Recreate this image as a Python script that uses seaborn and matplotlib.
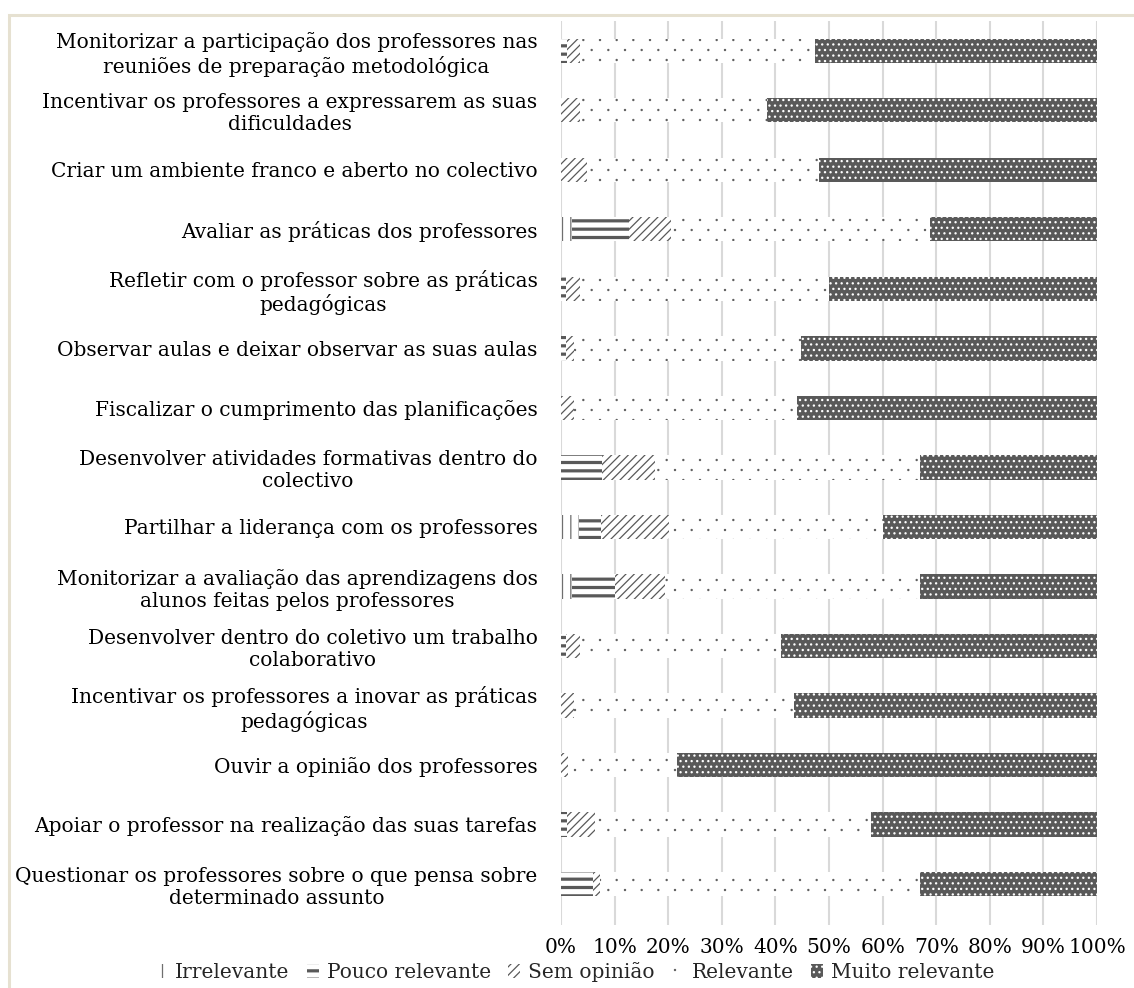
import numpy as np
import pandas as pd
import matplotlib
matplotlib.use("Agg")
import matplotlib.pyplot as plt
from matplotlib import hatch as mhatch
from matplotlib.path import Path
from matplotlib.patches import Patch, Rectangle
from matplotlib.ticker import FuncFormatter
import seaborn as sns

categories = [
    "Monitorizar a participação dos professores nas\nreuniões de preparação metodológica",
    "Incentivar os professores a expressarem as suas\ndificuldades",
    "Criar um ambiente franco e aberto no colectivo",
    "Avaliar as práticas dos professores",
    "Refletir com o professor sobre as práticas\npedagógicas",
    "Observar aulas e deixar observar as suas aulas",
    "Fiscalizar o cumprimento das planificações",
    "Desenvolver atividades formativas dentro do\ncolectivo",
    "Partilhar a liderança com os professores",
    "Monitorizar a avaliação das aprendizagens dos\nalunos feitas pelos professores",
    "Desenvolver dentro do coletivo um trabalho\ncolaborativo",
    "Incentivar os professores a inovar as práticas\npedagógicas",
    "Ouvir a opinião dos professores",
    "Apoiar o professor na realização das suas tarefas",
    "Questionar os professores sobre o que pensa sobre\ndeterminado assunto",
]

irrelevante = [0.0, 0.0, 0.0, 2.0, 0.0, 0.0, 0.0, 0.0, 3.4, 2.1, 0.0, 0.0, 0.0, 0.0, 0.0]
pouco_relevante = [1.2, 0.0, 0.0, 10.6, 1.0, 1.0, 0.0, 7.6, 4.0, 8.0, 1.0, 0.0, 0.0, 1.2, 6.0]
sem_opiniao = [2.4, 3.6, 4.9, 7.9, 2.6, 1.4, 2.4, 9.9, 12.8, 9.3, 2.6, 2.4, 1.3, 5.2, 1.3]
relevante = [43.8, 34.8, 43.2, 48.4, 46.4, 42.4, 41.7, 49.5, 39.9, 47.6, 37.5, 41.1, 20.4, 51.5, 59.7]
muito_relevante = [52.6, 61.6, 51.9, 31.1, 50.0, 55.2, 55.9, 33.0, 39.9, 33.0, 58.9, 56.5, 78.3, 42.1, 33.0]

series_names = ["Irrelevante", "Pouco relevante", "Sem opinião", "Relevante", "Muito relevante"]
series_values = [irrelevante, pouco_relevante, sem_opiniao, relevante, muito_relevante]
xtick_values = [0, 10, 20, 30, 40, 50, 60, 70, 80, 90, 100]


# sparse staggered dot texture (wider horizontally than vertically), bound to 'o'
class SparseDots(mhatch.HatchPatternBase):
    def __init__(self, hatch, density):
        self.active = hatch.count("o") > 0
        ncol, nrow = 6, 10
        pts = []
        for r in range(nrow + 1):
            y = r / nrow
            if r % 2 == 0:
                xs = np.arange(ncol + 1) / ncol
            else:
                xs = (np.arange(ncol) + 0.5) / ncol
            for x in xs:
                pts.append((x, y))
        self.pts = np.array(pts)
        circ = Path.unit_circle()
        self.shape_vertices = circ.vertices * 0.0055
        self.shape_codes = circ.codes
        self.num_vertices = len(self.pts) * len(self.shape_vertices) if self.active else 0

    def set_vertices_and_codes(self, vertices, codes):
        n = len(self.shape_vertices)
        cursor = 0
        for (x, y) in self.pts:
            vertices[cursor:cursor + n] = self.shape_vertices + (x, y)
            codes[cursor:cursor + n] = self.shape_codes
            cursor += n


mhatch._hatch_types = [SparseDots if t is mhatch.SmallCircles else t for t in mhatch._hatch_types]

DARK = "#595959"
styles = {
    "Irrelevante": dict(face="white", edge="#6f6f6f", hatch="||"),
    "Pouco relevante": dict(face="white", edge=DARK, hatch="--"),
    "Sem opinião": dict(face="white", edge="#595959", hatch="////"),
    "Relevante": dict(face="white", edge="#606060", hatch="o"),
    "Muito relevante": dict(face=DARK, edge="white", hatch="..."),
}

sns.set_theme(style="white")
plt.rcParams["font.family"] = ["DejaVu Serif"]
plt.rcParams["hatch.linewidth"] = 0.9

fig = plt.figure(figsize=(11.34, 9.88), dpi=100)
ax = fig.add_axes([561 / 1134, 1 - 925 / 988, 536 / 1134, 904 / 988])

vals = np.array(series_values)
cum = np.cumsum(vals, axis=0)
df = pd.DataFrame({"categoria": categories})
for name, c in zip(series_names, cum):
    df[name] = c

for k in range(len(series_names) - 1, -1, -1):
    name = series_names[k]
    st = styles[name]
    n_before = len(ax.patches)
    sns.barplot(data=df, x=name, y="categoria", order=categories, orient="h",
                color=st["face"], saturation=1, width=0.41, errorbar=None,
                edgecolor=st["edge"], linewidth=0, hatch=st["hatch"], ax=ax,
                zorder=3)
    for p in ax.patches[n_before:]:
        p.set_facecolor(st["face"])
        p.set_edgecolor(st["edge"])
        p.set_hatch(st["hatch"])
        p.set_linewidth(0)
        if name == "Pouco relevante" and hasattr(p, "set_hatch_linewidth"):
            p.set_hatch_linewidth(2.3)

FS = 14.5
ax.set_xlim(0, 100)
ax.set_ylim(14.69, -0.5)
ax.set_xticks(xtick_values)
ax.xaxis.set_major_formatter(FuncFormatter(lambda v, pos: f"{int(round(v))}%"))
ax.set_xlabel("")
ax.set_ylabel("")
ax.grid(axis="x", color="#d9d9d9", linewidth=1.5, zorder=0)
ax.grid(axis="y", visible=False)
ax.set_axisbelow(True)
for s in ax.spines.values():
    s.set_visible(False)
ax.tick_params(axis="y", length=0, pad=17, labelsize=FS, labelcolor="black")
ax.tick_params(axis="x", length=0, pad=9, labelsize=FS, labelcolor="black")
for t in ax.get_yticklabels():
    t.set_multialignment("center")

handles = []
for name in series_names:
    st = styles[name]
    h = Patch(facecolor=st["face"], edgecolor=st["edge"], hatch=st["hatch"], linewidth=0, label=name)
    handles.append(h)
leg = fig.legend(handles=handles, loc="center", bbox_to_anchor=(575 / 1134, 1 - 972 / 988),
                 ncol=5, frameon=False, fontsize=FS, handlelength=0.6, handleheight=0.7,
                 handletextpad=0.4, columnspacing=0.85)
for h in leg.legend_handles:
    if hasattr(h, "set_hatch_linewidth") and h.get_hatch() == "--":
        h.set_hatch_linewidth(2.3)

fig.add_artist(Rectangle((8.5 / 1134, -0.05), 1.2, 1.05 - 14.5 / 988, transform=fig.transFigure,
                         fill=False, edgecolor="#e6e1d1", linewidth=2.2))

fig.savefig("out.png", dpi=100, facecolor="white")
